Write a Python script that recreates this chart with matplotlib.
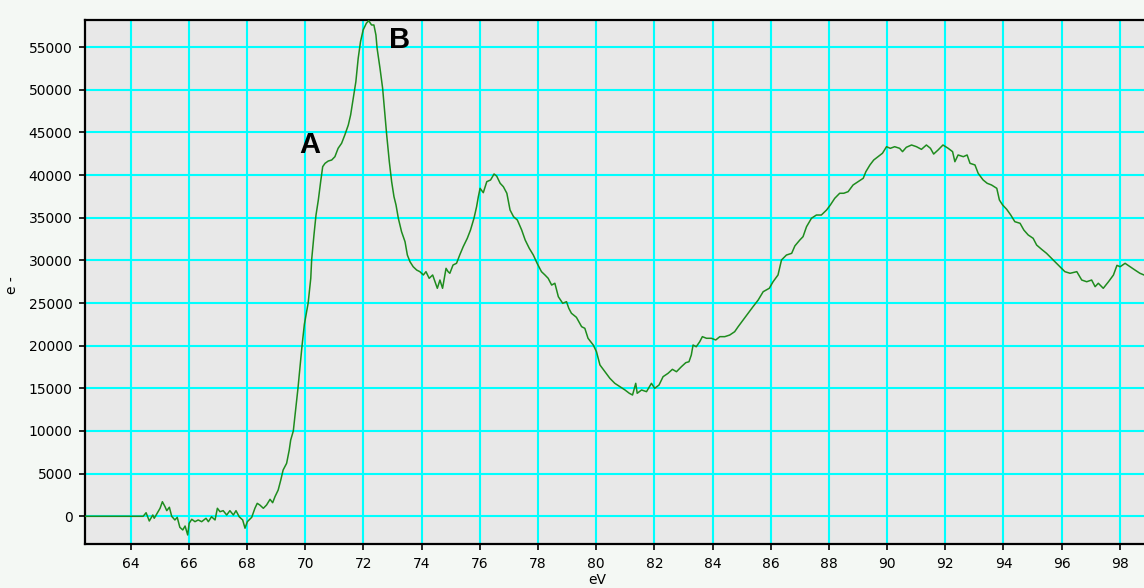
import numpy as np
import matplotlib.pyplot as plt

# EELS-style spectrum: electron counts vs energy loss
energy_ev = [
    62.43, 64.43, 64.53, 64.64, 64.76, 64.81, 64.91, 65.01, 65.09, 65.18,
    65.24, 65.33, 65.41, 65.52, 65.60, 65.69, 65.79, 65.87, 65.96, 66.01,
    66.10, 66.21, 66.32, 66.44, 66.59, 66.67, 66.78, 66.90, 66.98, 67.07,
    67.18, 67.30, 67.41, 67.53, 67.62, 67.73, 67.85, 67.93, 68.01, 68.16,
    68.27, 68.35, 68.44, 68.56, 68.67, 68.79, 68.88, 68.96, 69.07, 69.16,
    69.24, 69.36, 69.45, 69.50, 69.59, 69.67, 69.75, 69.82, 69.89, 69.97,
    70.10, 70.19, 70.22, 70.30, 70.37, 70.45, 70.53, 70.60, 70.68, 70.79,
    70.91, 71.02, 71.13, 71.25, 71.36, 71.48, 71.56, 71.65, 71.74, 71.82,
    71.90, 71.99, 72.10, 72.18, 72.28, 72.36, 72.43, 72.47, 72.57, 72.66,
    72.74, 72.80, 72.89, 72.97, 73.05, 73.12, 73.20, 73.31, 73.43, 73.51,
    73.60, 73.71, 73.83, 73.94, 74.06, 74.15, 74.26, 74.38, 74.46, 74.54,
    74.63, 74.72, 74.84, 74.91, 74.97, 75.08, 75.20, 75.31, 75.43, 75.57,
    75.68, 75.80, 75.89, 75.95, 76.01, 76.12, 76.24, 76.37, 76.49, 76.58,
    76.70, 76.81, 76.93, 77.04, 77.16, 77.29, 77.44, 77.56, 77.70, 77.84,
    77.97, 78.12, 78.24, 78.35, 78.47, 78.58, 78.70, 78.85, 78.98, 79.06,
    79.15, 79.32, 79.50, 79.61, 79.72, 79.90, 80.01, 80.13, 80.30, 80.47,
    80.64, 80.82, 80.99, 81.14, 81.25, 81.36, 81.41, 81.56, 81.73, 81.90,
    82.01, 82.16, 82.30, 82.47, 82.62, 82.76, 82.93, 83.08, 83.19, 83.27,
    83.33, 83.44, 83.56, 83.65, 83.79, 83.96, 84.11, 84.25, 84.42, 84.59,
    84.76, 84.88, 85.05, 85.22, 85.39, 85.57, 85.74, 85.95, 86.08, 86.25,
    86.37, 86.54, 86.72, 86.83, 87.00, 87.11, 87.23, 87.40, 87.57, 87.74,
    87.92, 88.05, 88.20, 88.37, 88.51, 88.66, 88.83, 89.00, 89.18, 89.27,
    89.41, 89.54, 89.69, 89.84, 89.98, 90.11, 90.26, 90.43, 90.53, 90.66,
    90.84, 91.01, 91.18, 91.35, 91.49, 91.60, 91.75, 91.92, 92.10, 92.25,
    92.33, 92.44, 92.62, 92.75, 92.85, 93.02, 93.13, 93.30, 93.44, 93.59,
    93.77, 93.86, 93.97, 94.11, 94.25, 94.39, 94.57, 94.70, 94.85, 95.02,
    95.14, 95.31, 95.48, 95.65, 95.77, 95.94, 96.11, 96.29, 96.52, 96.69,
    96.86, 97.03, 97.15, 97.26, 97.43, 97.61, 97.78, 97.90, 98.01, 98.18,
    98.35, 98.52, 98.69, 98.83,
]
counts = [
    0, 0, 420, -550, 150, -230, 350, 940, 1710, 1130,
    660, 1060, 0, -430, -120, -1290, -1600, -1140, -2190, -820,
    -350, -630, -430, -630, -230, -630, -50, -430, 940, 540,
    660, 150, 660, 150, 660, -50, -430, -1400, -630, -120,
    940, 1520, 1320, 940, 1320, 1990, 1590, 2300, 3080, 4260,
    5430, 6210, 7770, 8940, 10000, 12500, 15000, 17500, 20000, 22500,
    25000, 27900, 30050, 32980, 35320, 37080, 39230, 40990, 41380, 41650,
    41770, 42160, 43140, 43730, 44700, 45870, 47050, 49000, 50950, 53690,
    55640, 57010, 57800, 58100, 57600, 57600, 56420, 54870, 52520, 50180,
    47050, 44700, 41570, 39230, 37470, 36500, 34940, 33370, 32190, 30630,
    29850, 29260, 28870, 28680, 28290, 28680, 27900, 28290, 27500, 26730,
    27700, 26730, 29070, 28680, 28490, 29460, 29660, 30630, 31610, 32590,
    33560, 34940, 36300, 37470, 38450, 37940, 39230, 39430, 40130, 39890,
    39040, 38640, 37870, 35910, 35120, 34740, 33560, 32390, 31420, 30630,
    29660, 28680, 28290, 27900, 27110, 27320, 25740, 24970, 25160, 24380,
    23800, 23330, 22230, 22040, 20870, 20080, 19300, 17740, 16950, 16180,
    15590, 15190, 14810, 14420, 14220, 15590, 14420, 14810, 14610, 15590,
    15000, 15390, 16370, 16760, 17230, 16950, 17540, 18010, 18120, 18910,
    20080, 19880, 20470, 21060, 20870, 20870, 20670, 21060, 21060, 21250,
    21640, 22230, 23010, 23800, 24570, 25360, 26330, 26730, 27500, 28290,
    30050, 30630, 30830, 31700, 32390, 32780, 33950, 34940, 35320, 35320,
    35910, 36500, 37280, 37870, 37870, 38060, 38840, 39230, 39630, 40400,
    41190, 41770, 42160, 42560, 43330, 43140, 43330, 43140, 42750, 43260,
    43530, 43330, 43020, 43530, 43140, 42470, 42940, 43530, 43140, 42750,
    41570, 42360, 42160, 42360, 41380, 41190, 40210, 39430, 39040, 38840,
    38450, 37080, 36500, 35990, 35320, 34540, 34350, 33560, 32980, 32590,
    31800, 31300, 30830, 30250, 29850, 29260, 28680, 28490, 28680, 27700,
    27500, 27700, 26920, 27320, 26730, 27500, 28290, 29420, 29260, 29660,
    29260, 28870, 28490, 28290,
]

x_ticks = np.arange(64, 99, 2)
y_ticks = np.arange(0, 55001, 5000)

peak_labels = ["A", "B"]
peak_label_pos = [(70.16, 43500), (73.25, 55800)]

fig = plt.figure(figsize=(11.44, 5.88), dpi=100, facecolor="#f4f8f4")
ax = fig.add_axes([0.0743, 0.0748, 0.9257, 0.892])
ax.set_facecolor("#e8e8e8")

ax.plot(energy_ev, counts, color="#1e8c1e", lw=1.1, zorder=3)

ax.set_xlim(62.43, 98.83)
ax.set_ylim(-3250, 58240)
ax.set_xticks(x_ticks)
ax.set_yticks(y_ticks)
ax.grid(True, color="#00ffff", lw=1.5, zorder=1)
ax.set_axisbelow(True)

for side in ("left", "bottom", "top"):
    ax.spines[side].set_color("black")
    ax.spines[side].set_linewidth(1.6)
ax.spines["right"].set_visible(False)
ax.tick_params(direction="out", length=4, width=1.2, colors="black",
               labelsize=10, pad=5)

ax.set_xlabel("eV", fontsize=10)
ax.xaxis.set_label_coords(0.484, -0.056)
ax.set_ylabel("e -", fontsize=10)
ax.yaxis.set_label_coords(-0.062, 0.494)

for txt, (px, py) in zip(peak_labels, peak_label_pos):
    ax.text(px, py, txt, fontsize=21, fontweight="bold",
            family="Liberation Sans", ha="center", va="center", zorder=4)

fig.savefig("out.png", dpi=100, facecolor=fig.get_facecolor())
